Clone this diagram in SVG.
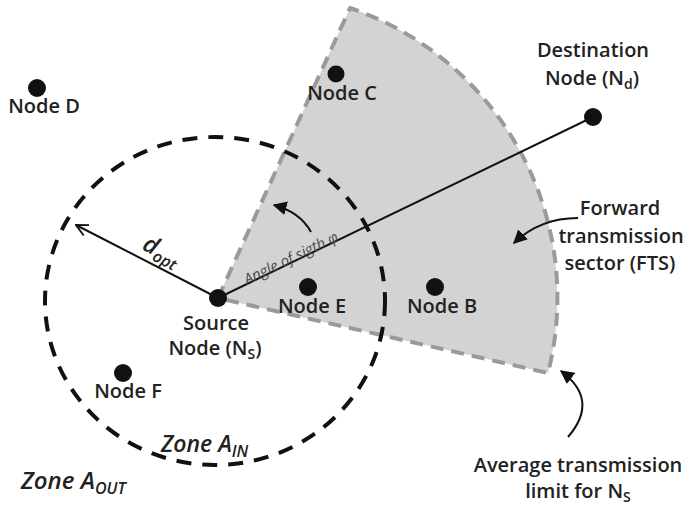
<svg xmlns="http://www.w3.org/2000/svg" width="689" height="512" viewBox="0 0 689 512">
<defs>
<style>
.t{font-family:"Open Sans","Liberation Sans",sans-serif;font-weight:600;font-size:20px;fill:#222;text-anchor:middle}
.it{font-family:"Open Sans","Liberation Sans",sans-serif;font-style:italic;font-weight:600;fill:#222}
.dot{fill:#111}
.ln{stroke:#111;stroke-width:2;fill:none}
</style>
<marker id="fb" viewBox="0 0 10 10" refX="9" refY="5" markerWidth="14" markerHeight="14" orient="auto" markerUnits="userSpaceOnUse">
<path d="M0,0 L10,5 L0,10 Z" fill="#111"/>
</marker>
<marker id="oa" viewBox="0 0 12 12" refX="11" refY="6" markerWidth="14" markerHeight="14" orient="auto" markerUnits="userSpaceOnUse">
<path d="M1,1 L11,6 L1,11" fill="none" stroke="#111" stroke-width="1.6"/>
</marker>
</defs>
<rect width="689" height="512" fill="#fff"/>
<g id="fts">
<path d="M218,298 L350,8 A306,306 0 0 1 548,373 Z" fill="#d3d3d3" stroke="#9a9a9a" stroke-width="4" stroke-dasharray="13,8" stroke-linejoin="round"/>
</g>
<g id="zone-in">
<ellipse cx="215" cy="301" rx="170" ry="164" fill="none" stroke="#111" stroke-width="4" stroke-dasharray="15,11"/>
</g>
<g id="connectors">
<line x1="218" y1="298" x2="593" y2="117" class="ln"/>
<line x1="218" y1="298" x2="76" y2="225" class="ln" marker-end="url(#oa)"/>
<path d="M311,232 Q300,212 274,205" class="ln" marker-end="url(#fb)"/>
<path d="M578,218 Q540,218 514,243" class="ln" marker-end="url(#fb)"/>
<path d="M568,437 Q600,400 561,371" class="ln" marker-end="url(#fb)"/>
</g>
<g id="source">
<circle cx="218" cy="298" r="9" class="dot"/>
<text class="t" x="216" y="330">Source</text>
<text class="t" x="215" y="355">Node (N<tspan font-size="14" dy="4">S</tspan><tspan dy="-4">)</tspan></text>
</g>
<g id="destination">
<circle cx="593" cy="117" r="9" class="dot"/>
<text class="t" x="593" y="57">Destination</text>
<text class="t" x="592" y="85">Node (N<tspan font-size="14" dy="4">d</tspan><tspan dy="-4">)</tspan></text>
</g>
<g id="node-c">
<circle cx="336" cy="74" r="8.5" class="dot"/>
<text class="t" x="342" y="100">Node C</text>
</g>
<g id="node-d">
<circle cx="37" cy="88" r="9" class="dot"/>
<text class="t" x="44" y="113">Node D</text>
</g>
<g id="node-e">
<circle cx="308" cy="287" r="9" class="dot"/>
<text class="t" x="312" y="313">Node E</text>
</g>
<g id="node-b">
<circle cx="435" cy="287" r="9" class="dot"/>
<text class="t" x="442" y="313">Node B</text>
</g>
<g id="node-f">
<circle cx="123" cy="373" r="9" class="dot"/>
<text class="t" x="128" y="398">Node F</text>
</g>
<g id="labels">
<text class="t" x="620" y="215">Forward</text>
<text class="t" x="621" y="243">transmission</text>
<text class="t" x="620" y="270">sector (FTS)</text>
<text class="t" x="578" y="472">Average transmission</text>
<text class="t" x="578" y="498">limit for N<tspan font-size="14" dy="4">S</tspan></text>
<text transform="translate(247,285) rotate(-25.8)" font-family="'Open Sans','Liberation Sans',sans-serif" font-style="italic" font-size="15" fill="#4a4a4a">Angle of sigth φ</text>
<text transform="translate(141,249) rotate(27)" class="it" font-size="24" font-weight="500">d<tspan font-size="16" dy="5">opt</tspan></text>
<text class="it" x="161" y="452" font-size="23">Zone A<tspan font-size="16" dy="5">IN</tspan></text>
<text class="it" x="21" y="489" font-size="24">Zone A<tspan font-size="16" dy="5">OUT</tspan></text>
</g>
</svg>
